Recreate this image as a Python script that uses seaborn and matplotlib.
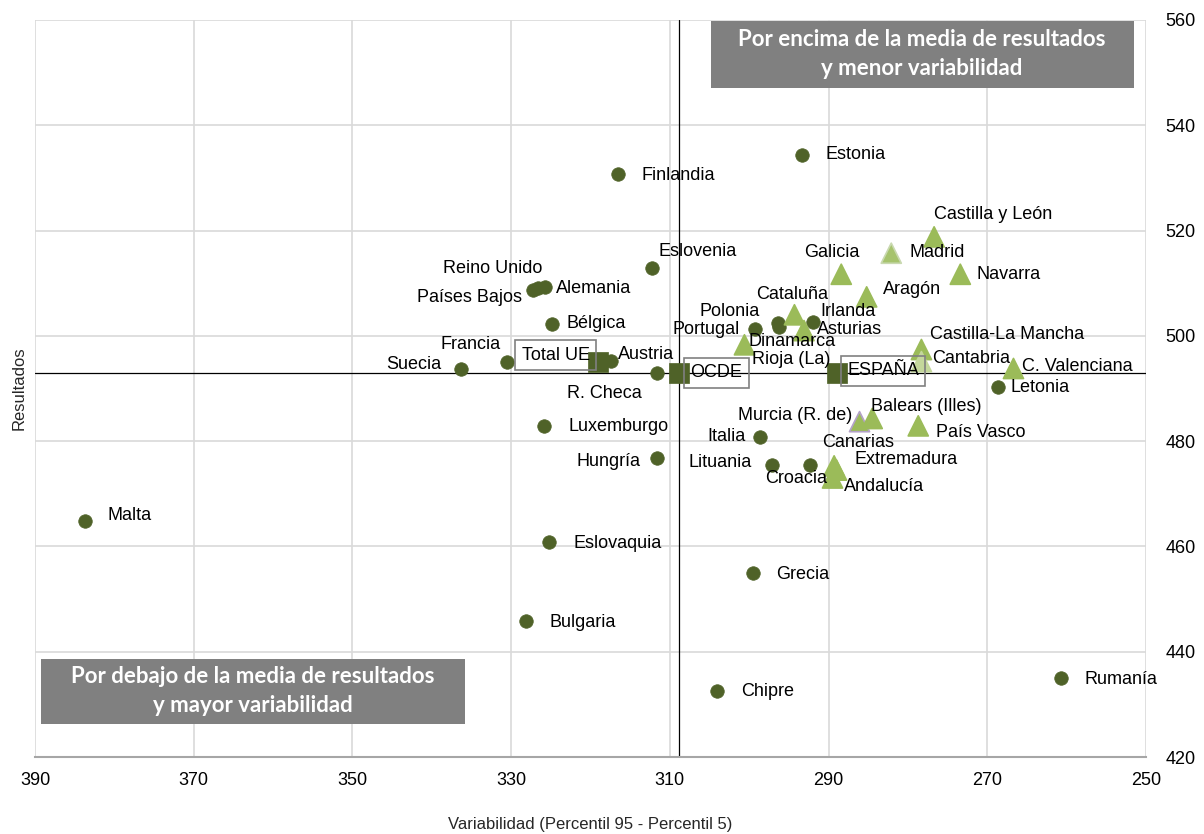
import matplotlib
matplotlib.use("Agg")
import matplotlib.pyplot as plt
import matplotlib.patches as mpatches
import seaborn as sns
import pandas as pd

# =============================================================================
# DATOS
# =============================================================================

# Países (círculos)
paises = ["Estonia", "Finlandia", "Eslovenia", "Reino Unido", "Países Bajos", "Alemania",
          "Bélgica", "Francia", "Suecia", "Austria", "R. Checa", "Luxemburgo", "Hungría",
          "Malta", "Eslovaquia", "Bulgaria", "Chipre", "Grecia", "Rumanía", "Letonia",
          "Italia", "Lituania", "Croacia", "Portugal", "Polonia", "Dinamarca", "Irlanda"]
var_paises = [293.4, 316.5, 312.3, 326.6, 327.3, 325.7,
              324.9, 330.5, 336.3, 317.4, 311.6, 325.8, 311.6,
              383.7, 325.2, 328.1, 304.1, 299.5, 260.7, 268.7,
              298.7, 297.1, 292.3, 299.3, 296.4, 296.2, 291.9]
res_paises = [534.4, 530.7, 512.9, 509.1, 508.7, 509.3,
              502.2, 495.0, 493.7, 495.2, 492.9, 482.9, 476.8,
              464.8, 460.8, 445.8, 432.5, 454.9, 435.0, 490.3,
              480.8, 475.5, 475.5, 501.3, 502.4, 501.7, 502.7]

# Comunidades autónomas (triángulos)
ccaa = ["Castilla y León", "Madrid", "Galicia", "Navarra", "Aragón", "Cataluña",
        "Asturias", "Rioja (La)", "Castilla-La Mancha", "Cantabria", "C. Valenciana",
        "Murcia (R. de)", "Balears (Illes)", "País Vasco", "Canarias", "Extremadura",
        "Andalucía"]
var_ccaa = [276.7, 282.1, 288.4, 273.4, 285.2, 294.3,
            293.1, 300.6, 278.3, 278.3, 266.7,
            286.1, 284.5, 278.7, 289.3, 289.0,
            289.5]
res_ccaa = [518.8, 515.7, 511.7, 511.7, 507.4, 504.0,
            501.0, 498.3, 497.4, 495.1, 493.8,
            483.7, 484.3, 482.9, 475.3, 474.5,
            473.0]

# Agregados (cuadrados)
agregados = ["Total UE", "OCDE", "ESPAÑA"]
var_agregados = [319.1, 308.9, 288.9]
res_agregados = [495.0, 493.0, 493.0]

# Posición de las etiquetas (desplazamiento en píxeles: dx, dy hacia abajo, alineación)
etiquetas = {
    "Estonia": (24, 0, "left"), "Finlandia": (23, 1, "left"), "Eslovenia": (7, -16, "left"),
    "Reino Unido": (4, -19, "right"), "Países Bajos": (-11, 7, "right"),
    "Alemania": (11, 2, "left"), "Bélgica": (15, -1, "left"), "Francia": (-7, -18, "right"),
    "Suecia": (-20, -5, "right"), "Austria": (7, -7, "left"), "R. Checa": (-15, 20, "right"),
    "Luxemburgo": (24, 1, "left"), "Hungría": (-17, 4, "right"), "Malta": (23, -6, "left"),
    "Eslovaquia": (24, 1, "left"), "Bulgaria": (23, 1, "left"), "Chipre": (24, 0, "left"),
    "Grecia": (23, 1, "left"), "Rumanía": (23, 1, "left"), "Letonia": (13, 1, "left"),
    "Italia": (-14, 0, "right"), "Lituania": (-20, -2, "right"), "Croacia": (17, 14, "right"),
    "Portugal": (-15, 0, "right"), "Polonia": (-18, -12, "right"),
    "Dinamarca": (-31, 15, "left"), "Irlanda": (7, -10, "left"),
    "Castilla y León": (0, -22, "left"), "Madrid": (18, -1, "left"),
    "Galicia": (18, -22, "right"), "Navarra": (16, 0, "left"), "Aragón": (16, -7, "left"),
    "Cataluña": (-2, -20, "center"), "Asturias": (13, -1, "left"),
    "Rioja (La)": (8, 15, "left"), "Castilla-La Mancha": (9, -15, "left"),
    "Cantabria": (11, -3, "left"), "C. Valenciana": (9, -2, "left"),
    "Murcia (R. de)": (-7, -6, "right"), "Balears (Illes)": (-1, -12, "left"),
    "País Vasco": (18, 7, "left"), "Canarias": (24, -23, "center"),
    "Extremadura": (18, -11, "left"), "Andalucía": (11, 9, "left"),
    "Total UE": (-8, -7, "right"), "OCDE": (12, 0, "left"), "ESPAÑA": (10, -2, "left"),
}

# =============================================================================
# ESTILO
# =============================================================================

sns.set_theme(style="whitegrid")
plt.rcParams["font.family"] = ["Liberation Sans", "DejaVu Sans"]

VERDE_OSCURO = "#4F6228"
VERDE_CLARO = "#9BBB59"

df_p = pd.DataFrame({"nombre": paises, "var": var_paises, "res": res_paises})
df_c = pd.DataFrame({"nombre": ccaa, "var": var_ccaa, "res": res_ccaa})
df_a = pd.DataFrame({"nombre": agregados, "var": var_agregados, "res": res_agregados})

# colores especiales de algunos triángulos
relleno_ccaa = [VERDE_CLARO] * len(ccaa)
borde_ccaa = [VERDE_CLARO] * len(ccaa)
relleno_ccaa[ccaa.index("Madrid")] = "#A6C36D"
borde_ccaa[ccaa.index("Madrid")] = "#C9D9B0"
relleno_ccaa[ccaa.index("Cantabria")] = "#C4D79B"
borde_ccaa[ccaa.index("Cantabria")] = "#C4D79B"
borde_ccaa[ccaa.index("Murcia (R. de)")] = "#B3A2C7"

fig = plt.figure(figsize=(12.04, 8.34), dpi=100)
ax = fig.add_axes([35 / 1204, 1 - 757 / 834, 1111 / 1204, 737 / 834])

# Líneas de referencia (media OCDE)
ocde_var = var_agregados[agregados.index("OCDE")]
ocde_res = res_agregados[agregados.index("OCDE")]
ax.axvline(ocde_var, color="black", linewidth=0.9, zorder=1)
ax.axhline(ocde_res, color="black", linewidth=0.9, zorder=1)

sns.scatterplot(data=df_p, x="var", y="res", ax=ax, marker="o", s=95,
                color=VERDE_OSCURO, edgecolor=VERDE_OSCURO, linewidth=0.5, zorder=3)
sns.scatterplot(data=df_c, x="var", y="res", ax=ax, marker="^", s=210,
                c=relleno_ccaa, edgecolors=borde_ccaa, linewidth=1.2, zorder=3)
sns.scatterplot(data=df_a, x="var", y="res", ax=ax, marker="s", s=200,
                color=VERDE_OSCURO, edgecolor=VERDE_OSCURO, linewidth=0.5, zorder=4)

# Etiquetas
for df in (df_p, df_c, df_a):
    for _, fila in df.iterrows():
        dx, dy, ha = etiquetas[fila["nombre"]]
        caja = None
        if fila["nombre"] in agregados:
            caja = dict(boxstyle="square,pad=0.35", facecolor="none",
                        edgecolor="#808080", linewidth=1.2)
        ax.annotate(fila["nombre"], (fila["var"], fila["res"]),
                    xytext=(dx, -dy), textcoords="offset pixels",
                    ha=ha, va="center", fontsize=13, color="black",
                    bbox=caja, zorder=5)

# Ejes
ax.set_xlim(390, 250)
ax.set_ylim(420, 560)
ax.set_xticks(range(390, 249, -20))
ax.set_yticks(range(420, 561, 20))
ax.yaxis.tick_right()
ax.yaxis.set_label_position("left")
ax.tick_params(axis="both", length=0, labelsize=13, colors="black")
ax.tick_params(axis="x", pad=11)
ax.tick_params(axis="y", pad=14)
ax.set_xlabel("Variabilidad (Percentil 95 - Percentil 5)", fontsize=12, labelpad=20)
ax.set_ylabel("Resultados", fontsize=12, labelpad=6)
ax.grid(True, color="#D9D9D9", linewidth=1.2)
ax.set_facecolor("white")
for lado in ("top", "right", "left"):
    ax.spines[lado].set_visible(False)
ax.spines["bottom"].set_color("#A6A6A6")
ax.spines["bottom"].set_linewidth(1.5)

# Cuadros de texto de los cuadrantes
ax.add_patch(mpatches.Rectangle((0.6085, 0.9077), 0.3805, 0.0909, transform=ax.transAxes,
                                facecolor="#808080", edgecolor="none", zorder=6))
ax.text(0.798, 0.954, "Por encima de la media de resultados\ny menor variabilidad",
        transform=ax.transAxes, ha="center", va="center", color="white",
        fontsize=16, fontweight="bold", family=["Lato", "DejaVu Sans"],
        linespacing=1.45, zorder=7)
ax.add_patch(mpatches.Rectangle((0.0054, 0.0448), 0.3816, 0.0882, transform=ax.transAxes,
                                facecolor="#808080", edgecolor="none", zorder=6))
ax.text(0.196, 0.0895, "Por debajo de la media de resultados\ny mayor variabilidad",
        transform=ax.transAxes, ha="center", va="center", color="white",
        fontsize=16, fontweight="bold", family=["Lato", "DejaVu Sans"],
        linespacing=1.45, zorder=7)

fig.savefig("out.png", dpi=100, facecolor="white")
